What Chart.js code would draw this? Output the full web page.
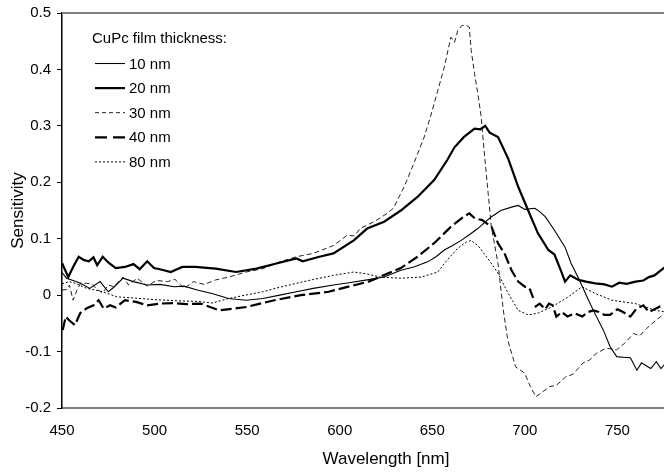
<!DOCTYPE html>
<html>
<head>
<meta charset="utf-8">
<script src="https://cdn.jsdelivr.net/npm/chart.js@4.4.1/dist/chart.umd.min.js"></script>
<style>
  html, body { margin: 0; padding: 0; background: #fff; overflow: hidden; }
  #wrap { width: 710px; height: 472px; }
</style>
</head>
<body>
<div id="wrap"><canvas id="myChart" width="710" height="472"></canvas></div>
<script>
// Værdier (bølgelængde i nm, sensitivitet)
const legendTitle = 'CuPc film thickness:';
const labels = ['10 nm', '20 nm', '30 nm', '40 nm', '80 nm'];
const xTicks = [450, 500, 550, 600, 650, 700, 750, 800];
const yTicks = [-0.2, -0.1, 0, 0.1, 0.2, 0.3, 0.4, 0.5];

const wl10 = [450,452.5,456,460,465,470.6,475,478,483,488.6,496,503,510.5,516,523,531,540,549.5,558.5,567.6,576.6,585.7,596.6,605,614.8,624,633,640,647.5,652,656.5,661,665.6,670,674.6,678,682,687,692.8,696.4,700,705.4,708,711,716,721.7,725,729,734.4,737,742.4,746,749.6,753,757,760.5,763,765.5,768,771,773.5,776.6,780];
const s10 = [0.04,0.03,0.026,0.021,0.012,0.024,0.006,0.014,0.03,0.024,0.018,0.019,0.015,0.016,0.009,0.003,-0.006,-0.009,-0.006,0,0.006,0.012,0.018,0.022,0.027,0.032,0.044,0.05,0.059,0.068,0.08,0.088,0.097,0.107,0.118,0.128,0.139,0.15,0.156,0.159,0.152,0.154,0.148,0.139,0.115,0.085,0.056,0.03,-0.009,-0.027,-0.062,-0.091,-0.109,-0.11,-0.111,-0.133,-0.12,-0.125,-0.13,-0.118,-0.13,-0.118,-0.12];

const wl20 = [450,453.4,456,459,462,464.5,467,469,472,475,479,484,488.6,492,496,499.7,504,508.7,515,522,533,544,555,565.8,576.6,580,589,596.6,607.6,614.8,624,633,642,651,658,662,667,672.8,676,678.6,681,685.5,691,696.4,701.8,707,712.7,716,720,721.7,724.5,729,733,738,743,747,751,755,759.8,764,767,770,775,780];
const s20 = [0.057,0.032,0.05,0.068,0.062,0.06,0.067,0.053,0.068,0.058,0.048,0.05,0.055,0.046,0.06,0.048,0.045,0.041,0.05,0.05,0.047,0.041,0.047,0.056,0.065,0.06,0.068,0.074,0.097,0.118,0.13,0.15,0.174,0.204,0.239,0.262,0.28,0.295,0.294,0.3,0.288,0.28,0.242,0.192,0.15,0.11,0.08,0.072,0.039,0.024,0.035,0.027,0.024,0.021,0.019,0.015,0.022,0.02,0.024,0.026,0.032,0.035,0.048,0.04];

const wl30 = [450,452.5,454,456,458,460,463.4,466,469,472,475,478,483,486,490.6,496,501,507,511,516,521,526.8,533,540,549.5,558.5,567.6,576.6,585.7,596.7,604,608,611,618.5,625.7,629,634.8,640,645.6,649,653,656.5,660,662,663.8,666,668.3,670,671,672.8,674.6,676.4,678.3,681.9,685.5,687.3,688.5,690.8,695,699.8,703,706,709.8,713.4,717,722,726,731.5,735,738.6,744,749.5,754,758.7,762,765.8,771,776.6,780];
const s30 = [0.009,0.01,0.018,-0.009,0.008,0.021,0.021,0.02,0.01,0.004,0.018,0.015,0.032,0.018,0.03,0.016,0.026,0.024,0.028,0.012,0.024,0.019,0.027,0.032,0.041,0.047,0.059,0.068,0.074,0.088,0.106,0.105,0.118,0.13,0.145,0.154,0.192,0.233,0.28,0.316,0.363,0.404,0.457,0.448,0.469,0.478,0.478,0.475,0.434,0.393,0.357,0.316,0.245,0.121,0.056,0.003,-0.03,-0.08,-0.127,-0.138,-0.162,-0.18,-0.171,-0.162,-0.16,-0.145,-0.14,-0.12,-0.115,-0.103,-0.094,-0.097,-0.085,-0.068,-0.072,-0.059,-0.044,-0.03,-0.025];

const wl40 = [450.4,452,454,457,459.8,463.4,467,469.8,472.5,476,479,484,490,496,503,510,517,525,535,549.5,564.7,579,594,604.7,615.6,633,642,651,660,667,670,673,677,682,685.5,689,692.8,696.4,700,702.5,704.5,704.9,705.4,708,711,713,715,717,720,723,727,731,734,737,740,743,746,750,753,757,760,764,767,770,773,777,780];
const s40 = [-0.062,-0.038,-0.045,-0.053,-0.032,-0.023,-0.018,-0.009,-0.024,-0.018,-0.022,-0.009,-0.012,-0.018,-0.015,-0.014,-0.016,-0.015,-0.027,-0.021,-0.009,0,0.006,0.015,0.024,0.048,0.068,0.092,0.121,0.139,0.145,0.136,0.133,0.121,0.092,0.074,0.044,0.024,0.015,0.012,-0.005,null,-0.021,-0.015,-0.025,-0.015,-0.018,-0.038,-0.03,-0.038,-0.032,-0.038,-0.03,-0.027,-0.03,-0.035,-0.035,-0.025,-0.03,-0.038,-0.025,-0.018,-0.03,-0.025,-0.02,-0.021,-0.022];

const wl80 = [450,454,458,463.4,468,472,479.7,488.6,500,512,523,531,540,549,558.5,567.6,576.6,586,596.6,602,607.6,614,622,633,644,653,658,663.7,668.3,671,674.6,680,685.5,691,696.4,701.8,707,714.5,723.5,730.8,738,747,759.8,770.6,776.6,780];
const s80 = [0.02,0.024,0.02,0.012,0.009,0.006,-0.003,-0.005,-0.008,-0.01,-0.011,-0.014,-0.006,0,0.006,0.014,0.021,0.028,0.035,0.038,0.041,0.038,0.032,0.03,0.032,0.041,0.062,0.083,0.094,0.097,0.088,0.065,0.039,0.003,-0.027,-0.035,-0.032,-0.021,-0.003,0.015,0.003,-0.009,-0.015,-0.027,-0.03,-0.03];

const FONT = '"Liberation Sans", Arial, sans-serif';

function pts(xs, ys) {
  return xs.map((x, i) => ({ x: x, y: ys[i] }));
}

// Forklaring inde i plotområdet, øverst til venstre
const insideLegend = {
  id: 'insideLegend',
  afterDraw(chart) {
    const ctx = chart.ctx;
    ctx.save();
    ctx.font = '15px ' + FONT;
    ctx.fillStyle = '#000';
    ctx.textBaseline = 'alphabetic';
    ctx.fillText(legendTitle, 92, 43);
    chart.data.datasets.forEach((ds, i) => {
      const y = 63.5 + i * 24.6;
      ctx.beginPath();
      ctx.setLineDash(ds.legendDash || []);
      ctx.lineWidth = ds.borderWidth;
      ctx.strokeStyle = ds.borderColor;
      ctx.moveTo(95, y);
      ctx.lineTo(125, y);
      ctx.stroke();
      ctx.setLineDash([]);
      ctx.fillText(ds.label, 129, y + 5);
    });
    ctx.restore();
  }
};

// Grå ramme-linje øverst
const topLine = {
  id: 'topLine',
  afterDraw(chart) {
    const a = chart.chartArea;
    const ctx = chart.ctx;
    ctx.save();
    ctx.strokeStyle = '#808080';
    ctx.lineWidth = 2;
    ctx.beginPath();
    ctx.moveTo(a.left, a.top);
    ctx.lineTo(a.right, a.top);
    ctx.stroke();
    ctx.restore();
  }
};

const ctx = document.getElementById('myChart').getContext('2d');
new Chart(ctx, {
  type: 'line',
  data: {
    datasets: [
      { label: labels[0], data: pts(wl10, s10), borderColor: '#000', borderWidth: 1.1 },
      { label: labels[1], data: pts(wl20, s20), borderColor: '#000', borderWidth: 2.2 },
      { label: labels[2], data: pts(wl30, s30), borderColor: '#222', borderWidth: 1, borderDash: [5, 3], legendDash: [4, 3] },
      { label: labels[3], data: pts(wl40, s40), borderColor: '#000', borderWidth: 2.2, borderDash: [11, 4], legendDash: [12, 6] },
      { label: labels[4], data: pts(wl80, s80), borderColor: '#000', borderWidth: 1, borderDash: [2, 2], legendDash: [2, 2] }
    ]
  },
  options: {
    responsive: false,
    animation: false,
    devicePixelRatio: 1,
    layout: { padding: { top: 13, left: 0, right: 0, bottom: 0 } },
    elements: {
      point: { radius: 0 },
      line: { tension: 0 }
    },
    spanGaps: false,
    plugins: {
      legend: { display: false },
      tooltip: { enabled: false }
    },
    scales: {
      x: {
        type: 'linear',
        min: 450,
        max: 800,
        afterBuildTicks: s => { s.ticks = xTicks.map(v => ({ value: v })); },
        afterFit: s => { s.height = 64; s.paddingLeft = 0; s.paddingRight = 0; },
        ticks: { color: '#000', font: { family: FONT, size: 15 }, padding: 14, maxRotation: 0 },
        grid: { drawOnChartArea: false, drawTicks: false },
        border: { color: '#808080', width: 2 },
        title: { display: true, text: 'Wavelength [nm]', color: '#000', font: { family: FONT, size: 17 }, padding: { top: 0, bottom: 2 } }
      },
      y: {
        min: -0.2,
        max: 0.5,
        afterBuildTicks: s => { s.ticks = yTicks.map(v => ({ value: v })); },
        afterFit: s => { s.width = 62; s.paddingTop = 0; s.paddingBottom = 0; },
        ticks: {
          color: '#000',
          font: { family: FONT, size: 15 },
          padding: 6,
          callback: v => (Math.abs(v) < 1e-9 ? '0' : v.toFixed(1))
        },
        grid: { drawOnChartArea: false, drawTicks: true, tickLength: 5, color: '#000' },
        border: { color: '#000', width: 1.5 },
        title: { display: true, text: 'Sensitivity', color: '#000', font: { family: FONT, size: 17 }, padding: { top: 8, bottom: 0 } }
      }
    }
  },
  plugins: [insideLegend, topLine]
});
</script>
</body>
</html>
